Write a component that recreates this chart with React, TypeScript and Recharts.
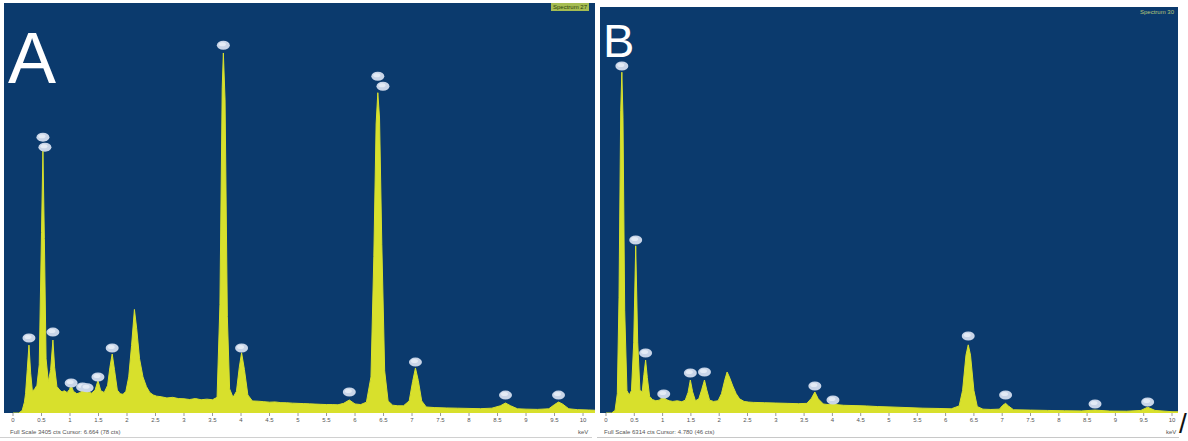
import React from 'react';
import {
  ComposedChart,
  Area,
  Scatter,
  XAxis,
  YAxis,
  CartesianGrid,
} from 'recharts';

// EDS spectra: [energy keV, counts]
const spectrumA: [number, number][] = [
  [0, 0], [0.1, 0], [0.16, 20], [0.2, 90], [0.22, 160], [0.25, 360], [0.28, 564], [0.31, 330],
  [0.34, 180], [0.38, 200], [0.42, 230], [0.46, 400], [0.5, 1500], [0.525, 2180], [0.55, 1450],
  [0.58, 450], [0.62, 260], [0.66, 360], [0.7, 606], [0.73, 380], [0.77, 220], [0.82, 190],
  [0.86, 175], [0.9, 185], [0.95, 170], [0.99, 195], [1.02, 230], [1.06, 180], [1.12, 160],
  [1.18, 170], [1.26, 215], [1.32, 175], [1.38, 165], [1.44, 190], [1.49, 270], [1.54, 185],
  [1.6, 170], [1.66, 230], [1.7, 380], [1.74, 490], [1.78, 360], [1.83, 190], [1.88, 160],
  [1.93, 155], [1.98, 180], [2.03, 300], [2.08, 560], [2.13, 860], [2.17, 700], [2.22, 450],
  [2.28, 300], [2.34, 220], [2.4, 170], [2.46, 150], [2.52, 140], [2.6, 135], [2.7, 125],
  [2.8, 130], [2.9, 120], [3.0, 118], [3.1, 112], [3.2, 120], [3.3, 110], [3.4, 115], [3.5, 110],
  [3.58, 130], [3.63, 900], [3.67, 2700], [3.69, 2990], [3.72, 2600], [3.76, 800], [3.8, 200],
  [3.86, 130], [3.92, 180], [3.97, 380], [4.01, 500], [4.06, 360], [4.12, 150], [4.2, 100],
  [4.3, 98], [4.4, 94], [4.5, 90], [4.6, 92], [4.7, 86], [4.8, 85], [4.9, 82], [5.0, 80],
  [5.1, 78], [5.2, 76], [5.3, 74], [5.4, 72], [5.5, 70], [5.6, 70], [5.7, 68], [5.8, 80],
  [5.9, 108], [6.0, 75], [6.1, 70], [6.2, 90], [6.28, 300], [6.33, 1300], [6.37, 2400],
  [6.4, 2660], [6.43, 2450], [6.47, 1400], [6.52, 350], [6.58, 100], [6.66, 65], [6.75, 60],
  [6.85, 60], [6.95, 100], [7.01, 260], [7.06, 374], [7.11, 270], [7.17, 100], [7.25, 50],
  [7.4, 45], [7.6, 42], [7.8, 40], [8.0, 38], [8.2, 36], [8.4, 40], [8.55, 60], [8.64, 83],
  [8.73, 60], [8.85, 35], [9.0, 32], [9.2, 30], [9.4, 35], [9.5, 70], [9.57, 91], [9.64, 75],
  [9.75, 35], [9.9, 28], [10.1, 25], [10.25, 22],
];

const spectrumB: [number, number][] = [
  [0, 0], [0.1, 0], [0.16, 40], [0.2, 300], [0.23, 1800], [0.26, 4700], [0.28, 5300], [0.3, 4600],
  [0.33, 1600], [0.37, 350], [0.41, 280], [0.45, 350], [0.49, 1100], [0.525, 2600], [0.56, 1100],
  [0.6, 350], [0.64, 330], [0.67, 600], [0.7, 824], [0.73, 550], [0.77, 260], [0.82, 210],
  [0.88, 190], [0.94, 200], [0.98, 230], [1.02, 260], [1.06, 210], [1.12, 190], [1.18, 180],
  [1.26, 190], [1.34, 175], [1.4, 200], [1.45, 320], [1.49, 513], [1.53, 330], [1.58, 190],
  [1.64, 220], [1.69, 360], [1.74, 513], [1.78, 360], [1.83, 200], [1.9, 180], [1.98, 190],
  [2.04, 300], [2.1, 520], [2.14, 638], [2.18, 560], [2.24, 420], [2.3, 300], [2.36, 220],
  [2.44, 180], [2.52, 170], [2.6, 165], [2.8, 160], [3.0, 155], [3.2, 150], [3.4, 145],
  [3.55, 150], [3.63, 230], [3.69, 327], [3.75, 220], [3.84, 140], [3.94, 130], [4.01, 160],
  [4.08, 130], [4.2, 120], [4.4, 115], [4.6, 110], [4.8, 100], [5.0, 95], [5.3, 85], [5.6, 75],
  [5.9, 70], [6.1, 65], [6.24, 110], [6.3, 350], [6.36, 900], [6.4, 1060], [6.44, 900],
  [6.5, 350], [6.56, 100], [6.66, 60], [6.8, 55], [6.95, 60], [7.01, 120], [7.06, 150],
  [7.11, 110], [7.2, 50], [7.5, 45], [7.8, 40], [8.1, 35], [8.4, 32], [8.64, 45], [8.9, 30],
  [9.2, 28], [9.45, 40], [9.57, 90], [9.7, 40], [10.0, 20], [10.12, 18],
];

// element label markers sitting over the peaks
const markersA: [number, number][] = [
  [0.28, 623], [0.525, 2291], [0.56, 2208], [0.7, 672], [1.02, 249], [1.22, 216], [1.3, 210],
  [1.49, 299], [1.74, 540], [3.69, 3054], [4.01, 540], [5.9, 174], [6.4, 2797], [6.49, 2714],
  [7.06, 423], [8.64, 149], [9.57, 149],
];

const markersB: [number, number][] = [
  [0.28, 5396], [0.525, 2690], [0.7, 933], [1.02, 295], [1.49, 622], [1.74, 638], [3.69, 420],
  [4.01, 202], [6.4, 1197], [7.06, 280], [8.64, 140], [9.57, 171],
];

const kevTicks = [0, 0.5, 1, 1.5, 2, 2.5, 3, 3.5, 4, 4.5, 5, 5.5, 6, 6.5, 7, 7.5, 8, 8.5, 9, 9.5, 10];

const BLUE = '#0b3a6d';
const YELLOW = '#d8e02c';

const toRows = (pts: [number, number][]) => pts.map(([kev, cts]) => ({ kev, cts }));

const LabelDot = (props: any) => {
  const { cx, cy } = props;
  if (cx == null || cy == null) return null;
  return (
    <g>
      <ellipse cx={cx} cy={cy} rx={6.5} ry={4.5} fill="#c9d5e8" />
      <ellipse cx={cx - 1} cy={cy - 1} rx={3.5} ry={2} fill="#e4ebf5" />
    </g>
  );
};

interface PanelProps {
  left: number;
  width: number;
  margin: { top: number; right: number; bottom: number; left: number };
  domain: [number, number];
  fullScale: number;
  spectrum: [number, number][];
  markers: [number, number][];
}

const SpectrumPanel = ({ left, width, margin, domain, fullScale, spectrum, markers }: PanelProps) => (
  <div style={{ position: 'absolute', left, top: 0 }}>
    <ComposedChart width={width} height={441} data={toRows(spectrum)} margin={margin}>
      <CartesianGrid fill={BLUE} fillOpacity={1} horizontal={false} vertical={false} stroke="none" />
      <XAxis
        type="number"
        dataKey="kev"
        domain={domain}
        allowDataOverflow
        ticks={kevTicks}
        height={20}
        axisLine={false}
        tickSize={3}
        tickMargin={2}
        tickLine={{ stroke: '#999' }}
        tick={{ fontSize: 6, fill: '#555', fontFamily: 'Liberation Sans' }}
        interval={0}
      />
      <YAxis hide type="number" domain={[0, fullScale]} allowDataOverflow />
      <Area
        type="linear"
        dataKey="cts"
        stroke={YELLOW}
        strokeWidth={1}
        fill={YELLOW}
        fillOpacity={1}
        isAnimationActive={false}
        dot={false}
        activeDot={false}
      />
      <Scatter data={toRows(markers)} dataKey="cts" shape={LabelDot} isAnimationActive={false} />
    </ComposedChart>
  </div>
);

const small: React.CSSProperties = {
  position: 'absolute',
  fontSize: 6,
  fontFamily: 'Liberation Sans, sans-serif',
  color: '#555',
  whiteSpace: 'nowrap',
  lineHeight: '6px',
};

export default function App() {
  return (
    <div style={{ position: 'absolute', left: 0, top: 0, width: 1188, height: 441, background: '#fff', overflow: 'hidden' }}>
      <SpectrumPanel
        left={0}
        width={600}
        margin={{ top: 3, right: 5, bottom: 8, left: 4 }}
        domain={[-0.158, 10.21]}
        fullScale={3405}
        spectrum={spectrumA}
        markers={markersA}
      />
      <SpectrumPanel
        left={594}
        width={594}
        margin={{ top: 7, right: 10, bottom: 8, left: 6 }}
        domain={[-0.106, 10.106]}
        fullScale={6314}
        spectrum={spectrumB}
        markers={markersB}
      />

      <div style={{ position: 'absolute', left: 8, top: 22, fontSize: 72, color: '#fff', fontFamily: 'Liberation Sans, sans-serif', lineHeight: '72px' }}>A</div>
      <div style={{ position: 'absolute', left: 603, top: 17, fontSize: 47, color: '#fff', fontFamily: 'Liberation Sans, sans-serif', lineHeight: '47px' }}>B</div>

      <div style={{ ...small, left: 551, top: 3, background: '#a6bd52', color: '#2d3d10', padding: '1px 2px' }}>Spectrum 27</div>
      <div style={{ ...small, left: 1140, top: 9, color: '#b5c67a' }}>Spectrum 30</div>

      <div style={{ ...small, left: 10, top: 429 }}>Full Scale 3405 cts Cursor: 6.664 (78 cts)</div>
      <div style={{ ...small, left: 578, top: 429 }}>keV</div>
      <div style={{ ...small, left: 604, top: 429 }}>Full Scale 6314 cts Cursor: 4.780 (46 cts)</div>
      <div style={{ ...small, left: 1166, top: 429 }}>keV</div>

      <div style={{ position: 'absolute', left: 0, top: 437, width: 592, height: 1, background: '#d0d0d0' }} />
      <div style={{ position: 'absolute', left: 597, top: 437, width: 582, height: 1, background: '#c8c8c8' }} />
      <div style={{ position: 'absolute', left: 1179, top: 410, fontSize: 28, color: '#111', fontFamily: 'Liberation Sans, sans-serif', lineHeight: '28px' }}>/</div>
    </div>
  );
}
